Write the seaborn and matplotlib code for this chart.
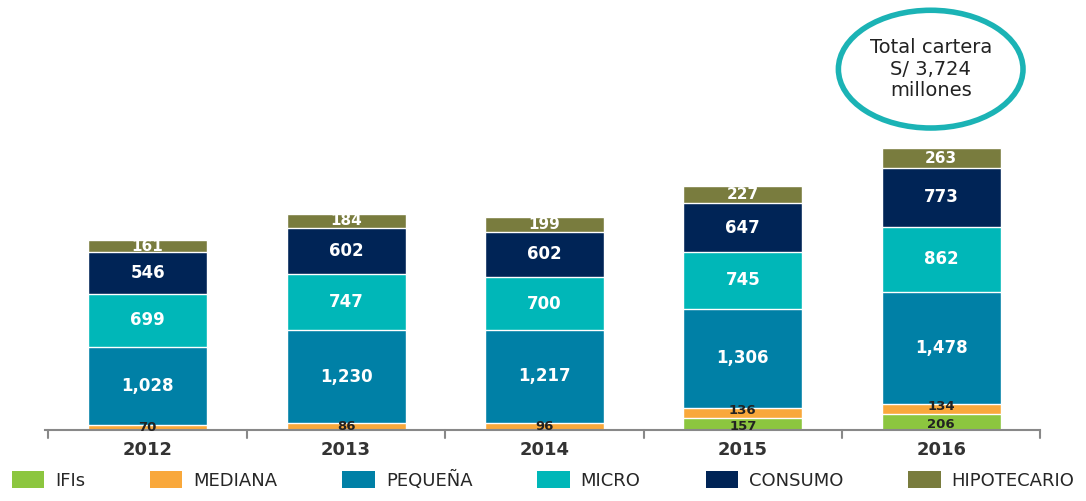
import numpy as np
import pandas as pd
import matplotlib
matplotlib.use("Agg")
import matplotlib.pyplot as plt
from matplotlib.patches import Ellipse, Patch
import seaborn as sns

years = ["2012", "2013", "2014", "2015", "2016"]
ifis = [0, 0, 0, 157, 206]
mediana = [70, 86, 96, 136, 134]
pequena = [1028, 1230, 1217, 1306, 1478]
micro = [699, 747, 700, 745, 862]
consumo = [546, 602, 602, 647, 773]
hipotecario = [161, 184, 199, 227, 263]

series = ["IFIs", "MEDIANA", "PEQUEÑA", "MICRO", "CONSUMO", "HIPOTECARIO"]
colores = ["#8cc63f", "#f9a83b", "#0080a6", "#00b7b8", "#002456", "#797c3e"]
texto_col = ["#222222", "#222222", "white", "white", "white", "white"]
texto_tam = [9.5, 9.5, 12, 12, 12, 11]

valores = np.array([ifis, mediana, pequena, micro, consumo, hipotecario])
acumulado = valores.cumsum(axis=0)

sns.set_style("white")
fig = plt.figure(figsize=(10.86, 5.01), dpi=100)
ax = fig.add_axes([0.041, 0.142, 0.917, 0.858])

# barras apiladas: se dibuja de arriba hacia abajo
for i in range(len(series) - 1, -1, -1):
    df = pd.DataFrame({"anio": years, "valor": acumulado[i]})
    sns.barplot(data=df, x="anio", y="valor", color=colores[i], width=0.6,
                saturation=1, ax=ax, order=years)

# etiquetas (las dos de abajo se separan un poco cuando van juntas)
for i in range(len(series)):
    for j in range(len(years)):
        v = valores[i, j]
        if v == 0:
            continue
        y = acumulado[i, j] - v / 2
        dy = 0
        if ifis[j] > 0 and i == 0:
            dy = -2
        elif ifis[j] > 0 and i == 1:
            dy = 2
        ax.annotate(f"{v:,}", (j, y), xytext=(0, dy), textcoords="offset points",
                    ha="center", va="center", fontsize=texto_tam[i],
                    fontweight="bold", color=texto_col[i])

ax.set_xlim(-0.52, 4.5)
ax.set_ylim(0, 5672)
ax.set_xlabel("")
ax.set_ylabel("")
ax.set_yticks([])
ax.set_xticks(range(len(years)))
ax.set_xticklabels(years, fontsize=13, fontweight="bold", color="#333333")
ax.tick_params(axis="x", length=0, pad=8)
for s in ["top", "right", "left"]:
    ax.spines[s].set_visible(False)
ax.spines["bottom"].set_color("#888888")
ax.spines["bottom"].set_linewidth(1.5)

# marcas entre categorias
for b in np.arange(-0.5, 5, 1):
    ax.plot([b, b], [0, -110], color="#888888", lw=1.5, clip_on=False)

# circulo total
elipse = Ellipse((0.857, 0.862), 0.170, 0.235, transform=fig.transFigure,
                 fill=False, edgecolor="#1bb3b5", lw=4)
fig.patches.append(elipse)
fig.text(0.857, 0.862, "Total cartera\nS/ 3,724\nmillones", ha="center",
         va="center", fontsize=14, linespacing=1.15, color="#222222")

handles = [Patch(facecolor=c, edgecolor="none") for c in colores]
fig.legend(handles, series, loc="lower center", bbox_to_anchor=(0.5, -0.01),
           ncol=6, frameon=False, fontsize=13, handlelength=1.8,
           handleheight=1.1, columnspacing=3.6, handletextpad=0.6)

fig.savefig("out.png", dpi=100)
